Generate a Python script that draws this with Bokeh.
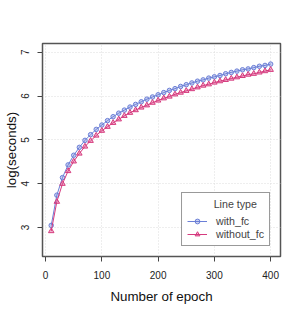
from bokeh.plotting import figure
from bokeh.models import Range1d, Legend, LegendItem, FixedTicker
from bokeh.embed import file_html
from bokeh.resources import INLINE

epochs = [10, 20, 30, 40, 50, 60, 70, 80, 90, 100,
          110, 120, 130, 140, 150, 160, 170, 180, 190, 200,
          210, 220, 230, 240, 250, 260, 270, 280, 290, 300,
          310, 320, 330, 340, 350, 360, 370, 380, 390, 400]
with_fc = [3.05, 3.74, 4.14, 4.43, 4.65, 4.83, 4.99, 5.12, 5.24, 5.34,
           5.44, 5.53, 5.61, 5.68, 5.75, 5.81, 5.87, 5.93, 5.98, 6.03,
           6.08, 6.13, 6.17, 6.22, 6.26, 6.30, 6.34, 6.37, 6.41, 6.44,
           6.47, 6.51, 6.54, 6.57, 6.60, 6.62, 6.65, 6.68, 6.70, 6.73]
without_fc = [2.92, 3.59, 4.00, 4.29, 4.51, 4.69, 4.85, 4.98, 5.10, 5.21,
              5.30, 5.39, 5.47, 5.55, 5.62, 5.68, 5.74, 5.79, 5.85, 5.90,
              5.95, 5.99, 6.04, 6.08, 6.12, 6.16, 6.20, 6.24, 6.27, 6.31,
              6.34, 6.37, 6.40, 6.43, 6.46, 6.49, 6.51, 6.54, 6.57, 6.60]
x_ticks = [0, 100, 200, 300, 400]
y_ticks = [3, 4, 5, 6, 7]

BLUE = "#6b7fd7"
PINK = "#d63a7e"
FONT = "Liberation Sans"

p = figure(frame_width=238, frame_height=213, output_backend="svg", toolbar_location=None,
           x_range=Range1d(-5.5, 417.5), y_range=Range1d(2.34, 7.2),
           min_border_left=37, min_border_right=14, min_border_top=43,
           min_border_bottom=49)
p.background_fill_color = "white"
p.border_fill_color = "white"
p.outline_line_color = "#555555"
p.outline_line_width = 1.5

for ax in (p.xaxis[0], p.yaxis[0]):
    ax.axis_line_color = None
    ax.major_tick_line_color = "#444444"
    ax.major_tick_out = 5
    ax.major_tick_in = 0
    ax.minor_tick_line_color = None
    ax.major_label_text_font = FONT
    ax.major_label_text_font_size = "7.5pt"
    ax.major_label_text_color = "#222222"
    ax.axis_label_text_font = FONT
    ax.axis_label_text_font_size = "10pt"
    ax.axis_label_text_font_style = "normal"
    ax.axis_label_text_color = "#111111"

p.xaxis.ticker = FixedTicker(ticks=x_ticks)
p.yaxis.ticker = FixedTicker(ticks=y_ticks)
p.yaxis.major_label_orientation = "vertical"
p.xaxis.axis_label = "Number of epoch"
p.yaxis.axis_label = "log(seconds)"
p.xaxis.major_label_standoff = 9
p.xaxis.axis_label_standoff = 7
p.yaxis.major_label_standoff = 8
p.yaxis.axis_label_standoff = 0

for g in (p.xgrid[0], p.ygrid[0]):
    g.grid_line_color = "#dddddd"
    g.grid_line_dash = "1 2"
    g.grid_line_width = 1

l1 = p.line(epochs, with_fc, line_color=BLUE, line_width=1)
m1 = p.scatter(epochs, with_fc, marker="circle", size=4.5, line_color=BLUE,
               fill_color=BLUE, fill_alpha=0.35, line_width=1)
l2 = p.line(epochs, without_fc, line_color=PINK, line_width=1)
m2 = p.scatter(epochs, without_fc, marker="triangle", size=5.5, line_color=PINK,
               fill_color=PINK, fill_alpha=0.35, line_width=1)

legend = Legend(items=[LegendItem(label="with_fc", renderers=[l1, m1]),
                       LegendItem(label="without_fc", renderers=[l2, m2])],
                location="bottom_right",
                title="\u00a0\u00a0\u00a0\u00a0\u00a0\u00a0\u00a0\u00a0\u00a0Line type")
legend.title_text_font = FONT
legend.title_text_font_size = "8pt"
legend.title_text_font_style = "normal"
legend.title_standoff = 5
legend.label_text_font = FONT
legend.label_text_font_size = "8pt"
legend.border_line_color = "#333333"
legend.border_line_width = 1
legend.background_fill_alpha = 1
legend.glyph_width = 20
legend.glyph_height = 12
legend.label_height = 12
legend.label_standoff = 9
legend.spacing = 1
legend.padding = 5
legend.margin = 10
p.add_layout(legend)

open("out.html", "w").write(file_html(p, INLINE))
